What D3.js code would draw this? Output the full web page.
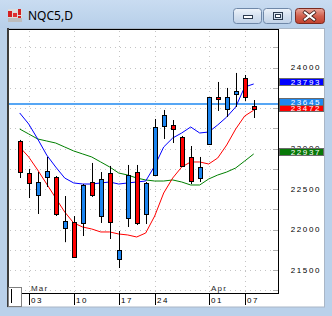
<!DOCTYPE html>
<html>
<head>
<meta charset="UTF-8" />
<script src="https://d3js.org/d3.v7.min.js"></script>
<style>
  body { margin: 0; background: #bad1ea; }
  svg { display: block; }
</style>
</head>
<body>
<script>
// daily bars, NQC5
const opens  = [23095, 22700, 22429, 22651, 22651, 22021, 22095, 22083, 22589, 22169, 22700, 21638, 22145, 22712,
                22194, 22675, 23280, 23293, 23145, 22898, 22638, 23058, 23638, 23490, 23675, 23873, 23527];
const highs  = [23108, 22750, 22712, 22898, 22663, 22416, 22169, 22564, 22824, 22712, 22787, 21984, 22799, 22799,
                22589, 23367, 23478, 23354, 23157, 23033, 22898, 23638, 23824, 23750, 23935, 23910, 23601];
const lows   = [22638, 22391, 22194, 22527, 22169, 21846, 21651, 21922, 22404, 22083, 21885, 21527, 22033, 22058,
                22070, 22663, 23120, 23070, 22774, 22564, 22589, 23046, 23466, 23391, 23515, 23589, 23379];
const closes = [22712, 22577, 22589, 22725, 22194, 22108, 21663, 22552, 22429, 22626, 22095, 21749, 22675, 22083,
                22577, 23268, 23416, 23243, 22787, 22601, 22774, 23638, 23614, 23638, 23712, 23638, 23490];

// moving averages
const maFast = [23441, 23305, 23120, 22922, 22774, 22638, 22577, 22564, 22564, 22577, 22589, 22564, 22577, 22589,
                22601, 22787, 23021, 23132, 23194, 23268, 23194, 23206, 23293, 23391, 23515, 23762, 23799];
const maMid  = [23021, 22898, 22737, 22564, 22391, 22219, 22083, 22033, 22009, 21972, 21972, 21947, 21935, 21910,
                21959, 22169, 22453, 22638, 22774, 22836, 22836, 22811, 22885, 23046, 23243, 23404, 23475];
const maSlow = [23243, 23182, 23120, 23095, 23070, 23021, 22972, 22935, 22898, 22836, 22774, 22700, 22675, 22638,
                22614, 22601, 22601, 22614, 22589, 22552, 22552, 22626, 22675, 22712, 22762, 22848, 22935];

const priceLine = 23552;

// 23500 sits under the value tags, so it is not written
const yTicks = [21500, 22000, 22500, 23000, 24000];
const xTickIndex = [1, 6, 11, 15, 21, 25];
const xTickLabels = ["03", "10", "17", "24", "01", "07"];
const monthIndex = [1, 21];
const monthLabels = ["Mar", "Apr"];

const tagTexts  = ["23793", "23472", "23645", "22937"];
const tagValues = [23799, 23475, 23552, 22935];
const tagFills  = ["#0000ff", "#ff0000", "#1e88f0", "#087808"];

const width = 332, height = 316;
const plot = { left: 8, right: 278, top: 29, bottom: 293 };

const svg = d3.select("body").append("svg")
    .attr("width", width)
    .attr("height", height)
    .style("font-family", "'Liberation Sans', Arial, sans-serif");

// ---- window frame ----
const defs = svg.append("defs");
const tg = defs.append("linearGradient").attr("id", "title").attr("x1", 0).attr("y1", 0).attr("x2", 0).attr("y2", 1);
tg.append("stop").attr("offset", 0).attr("stop-color", "#c9dcf1");
tg.append("stop").attr("offset", 1).attr("stop-color", "#b7cfe9");
const bg = defs.append("linearGradient").attr("id", "btn").attr("x1", 0).attr("y1", 0).attr("x2", 0).attr("y2", 1);
bg.append("stop").attr("offset", 0).attr("stop-color", "#eef3fa");
bg.append("stop").attr("offset", 0.5).attr("stop-color", "#d5e1ef");
bg.append("stop").attr("offset", 1).attr("stop-color", "#c2d3e8");
const cg = defs.append("linearGradient").attr("id", "close").attr("x1", 0).attr("y1", 0).attr("x2", 0).attr("y2", 1);
cg.append("stop").attr("offset", 0).attr("stop-color", "#e9a99c");
cg.append("stop").attr("offset", 0.5).attr("stop-color", "#d2614f");
cg.append("stop").attr("offset", 1).attr("stop-color", "#c2402c");

svg.append("rect").attr("width", width).attr("height", height).attr("fill", "#bad1ea");
svg.append("rect").attr("width", width).attr("height", 28).attr("fill", "url(#title)");

// icon
const icon = svg.append("g").attr("transform", "translate(8,9)");
icon.append("rect").attr("width", 14).attr("height", 13).attr("fill", "#dcdcdc");
icon.append("rect").attr("x", 0).attr("y", 2).attr("width", 4).attr("height", 6).attr("fill", "#d42020");
icon.append("rect").attr("x", 5).attr("y", 4).attr("width", 4).attr("height", 4).attr("fill", "#e03030");
icon.append("rect").attr("x", 10).attr("y", 0).attr("width", 3).attr("height", 6).attr("fill", "#d42020");
icon.append("rect").attr("x", 10).attr("y", 7).attr("width", 3).attr("height", 2).attr("fill", "#d42020");
icon.append("rect").attr("x", 0).attr("y", 9).attr("width", 14).attr("height", 4).attr("fill", "#bdbdbd");

svg.append("text")
    .attr("x", 28).attr("y", 19.5)
    .attr("font-family", "'Noto Sans', 'Open Sans', sans-serif")
    .attr("font-size", 12)
    .attr("fill", "#000")
    .text("NQC5,D");

// caption buttons
[[233.5, "min"], [263.5, "max"]].forEach(function (b) {
    svg.append("rect").attr("x", b[0]).attr("y", 8.5).attr("width", 28).attr("height", 15).attr("rx", 3)
        .attr("fill", "url(#btn)").attr("stroke", "#6f88a8");
});
svg.append("rect").attr("x", 243.5).attr("y", 15.5).attr("width", 9).attr("height", 3)
    .attr("fill", "#fff").attr("stroke", "#2b3a4e");
svg.append("rect").attr("x", 273.5).attr("y", 12.5).attr("width", 9).attr("height", 7)
    .attr("fill", "none").attr("stroke", "#2b3a4e");
svg.append("rect").attr("x", 275.5).attr("y", 14.5).attr("width", 5).attr("height", 3)
    .attr("fill", "#fff").attr("stroke", "#2b3a4e");
svg.append("rect").attr("x", 295.5).attr("y", 8.5).attr("width", 29).attr("height", 15).attr("rx", 3)
    .attr("fill", "url(#close)").attr("stroke", "#7a2a20");
svg.append("path").attr("d", "M305,12.5 L314,19.5 M314,12.5 L305,19.5")
    .attr("stroke", "#3a1a16").attr("stroke-width", 3.6).attr("stroke-linecap", "square");
svg.append("path").attr("d", "M305,12.5 L314,19.5 M314,12.5 L305,19.5")
    .attr("stroke", "#fff").attr("stroke-width", 2.2).attr("stroke-linecap", "square");

// client area
svg.append("rect").attr("x", 7.5).attr("y", 28.5).attr("width", 317).attr("height", 278.5)
    .attr("fill", "#fff").attr("stroke", "#a9b6c6");

// ---- scales ----
const x = d3.scaleLinear().domain([0, opens.length - 1]).range([19.7, 253.7]);
const y = d3.scaleLinear().domain([21500, 24000]).range([270.2, 67.7]);
const px = function (i) { return Math.round(x(i)); };

// dotted grid
const gridLevels = d3.range(21250, 24500, 250);
svg.append("g").selectAll("line").data(gridLevels).join("line")
    .attr("x1", plot.left + 2).attr("x2", plot.right)
    .attr("y1", function (d) { return Math.round(y(d)) + 0.5; })
    .attr("y2", function (d) { return Math.round(y(d)) + 0.5; })
    .attr("stroke", "#c4c4c4").attr("stroke-dasharray", "1,4");
svg.append("g").selectAll("line").data(xTickIndex).join("line")
    .attr("x1", function (d) { return px(d) + 0.5; })
    .attr("x2", function (d) { return px(d) + 0.5; })
    .attr("y1", plot.top + 2).attr("y2", plot.bottom)
    .attr("stroke", "#c4c4c4").attr("stroke-dasharray", "1,4");

// right axis small ticks
svg.append("g").selectAll("line").data(gridLevels).join("line")
    .attr("x1", plot.right - 5).attr("x2", plot.right)
    .attr("y1", function (d) { return Math.round(y(d)) + 0.5; })
    .attr("y2", function (d) { return Math.round(y(d)) + 0.5; })
    .attr("stroke", "#b0b0b0");

// price line
svg.append("line")
    .attr("x1", plot.left).attr("x2", plot.right)
    .attr("y1", y(priceLine)).attr("y2", y(priceLine))
    .attr("stroke", "#1e88f0").attr("stroke-width", 1.3);

// moving averages
const idx = d3.range(opens.length);
[[maSlow, "#008000"], [maMid, "#ff0000"], [maFast, "#0000ff"]].forEach(function (m) {
    svg.append("path")
        .datum(idx)
        .attr("fill", "none")
        .attr("stroke", m[1])
        .attr("stroke-width", 1)
        .attr("d", d3.line()
            .x(function (i) { return x(i); })
            .y(function (i) { return y(m[0][i]); }));
});

// candles
const candles = svg.append("g");
candles.selectAll("line").data(idx).join("line")
    .attr("x1", function (i) { return px(i) + 0.5; })
    .attr("x2", function (i) { return px(i) + 0.5; })
    .attr("y1", function (i) { return y(highs[i]); })
    .attr("y2", function (i) { return y(lows[i]); })
    .attr("stroke", "#000");
candles.selectAll("rect").data(idx).join("rect")
    .attr("x", function (i) { return px(i) - 1.5; })
    .attr("width", 4)
    .attr("y", function (i) { return Math.round(y(Math.max(opens[i], closes[i]))) + 0.5; })
    .attr("height", function (i) {
        return Math.max(1, Math.round(Math.abs(y(opens[i]) - y(closes[i]))));
    })
    .attr("fill", function (i) { return closes[i] >= opens[i] ? "#1a84f0" : "#ff0000"; })
    .attr("stroke", "#000");

// plot frame
svg.append("line").attr("x1", 7).attr("x2", plot.right + 1).attr("y1", plot.top + 0.5).attr("y2", plot.top + 0.5)
    .attr("stroke", "#000");
svg.append("line").attr("x1", plot.right + 0.5).attr("x2", plot.right + 0.5).attr("y1", plot.top).attr("y2", plot.bottom + 1)
    .attr("stroke", "#000");
svg.append("line").attr("x1", plot.left).attr("x2", plot.right + 1).attr("y1", plot.bottom + 0.5).attr("y2", plot.bottom + 0.5)
    .attr("stroke", "#000");
svg.append("line").attr("x1", 8).attr("x2", 8).attr("y1", 28).attr("y2", 307)
    .attr("stroke", "#3c3c3c").attr("stroke-width", 2);

// y labels
svg.append("g").selectAll("text").data(yTicks).join("text")
    .attr("x", 321).attr("y", function (d) { return y(d) + 2.5; })
    .attr("text-anchor", "end")
    .attr("font-size", 8).attr("letter-spacing", 1.6)
    .attr("fill", "#000")
    .text(function (d) { return d; });

// value tags
const tags = svg.append("g");
tagTexts.forEach(function (t, k) {
    const cy = y(tagValues[k]) - 2;
    tags.append("rect")
        .attr("x", 279.5).attr("y", Math.round(cy - 4) + 0.5)
        .attr("width", 44).attr("height", 7)
        .attr("fill", tagFills[k]).attr("stroke", "#6a6a6a");
    tags.append("text")
        .attr("x", 321).attr("y", Math.round(cy - 4) + 7)
        .attr("text-anchor", "end")
        .attr("font-size", 8).attr("letter-spacing", 1.6)
        .attr("fill", "#fff")
        .text(t);
});

// date axis
svg.append("g").selectAll("line").data(xTickIndex).join("line")
    .attr("x1", function (d) { return px(d) + 0.5; })
    .attr("x2", function (d) { return px(d) + 0.5; })
    .attr("y1", plot.bottom).attr("y2", 305)
    .attr("stroke", "#000");
svg.append("g").selectAll("text").data(xTickIndex).join("text")
    .attr("x", function (d) { return px(d) + 2; })
    .attr("y", 302.5)
    .attr("font-size", 8).attr("letter-spacing", 1.6)
    .attr("fill", "#000")
    .text(function (d, k) { return xTickLabels[k]; });
svg.append("g").selectAll("text").data(monthIndex).join("text")
    .attr("x", function (d) { return px(d) + 2; })
    .attr("y", 290.5)
    .attr("font-size", 8).attr("letter-spacing", 1.2)
    .attr("fill", "#2a2a2a")
    .text(function (d, k) { return monthLabels[k]; });

// small box at lower left
svg.append("rect").attr("x", 8.5).attr("y", 287.5).attr("width", 13).attr("height", 19)
    .attr("fill", "#fff").attr("stroke", "#808080");
svg.append("line").attr("x1", 11.5).attr("x2", 11.5).attr("y1", 289).attr("y2", 303).attr("stroke", "#000");
</script>
</body>
</html>
